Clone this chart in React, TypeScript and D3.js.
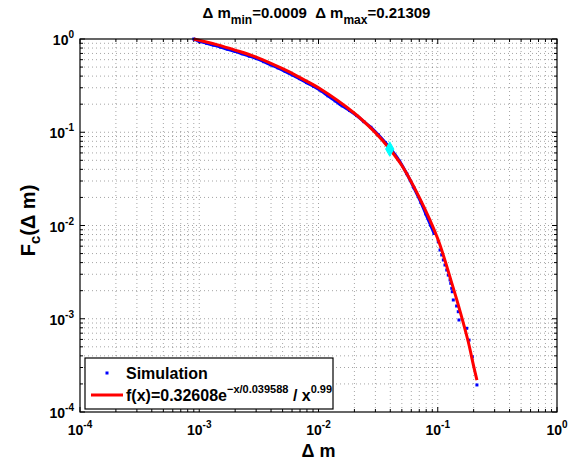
import React from "react";
import * as d3 from "d3";

const W = 572;
const H = 460;
const PLOT = { left: 80, right: 557, top: 39, bottom: 412 };

// axis ticks
const tickExponents = [-4, -3, -2, -1, 0];
const tickExpLabels = ["-4", "-3", "-2", "-1", "0"];
const minorMultipliers = [2, 3, 4, 5, 6, 7, 8, 9];

// fitted curve (red)
const fitX = [0.0009, 0.0014, 0.002, 0.003, 0.005, 0.007, 0.01, 0.02, 0.03, 0.04, 0.05, 0.07, 0.1, 0.13, 0.15, 0.18, 0.2, 0.21309];
const fitY = [1.0, 0.87, 0.76, 0.64, 0.48, 0.385, 0.3, 0.16, 0.099, 0.065, 0.044, 0.02, 0.0072, 0.0025, 0.00135, 0.00057, 0.00031, 0.00022];

// simulation (blue dots)
const simX = [0.0009, 0.001, 0.00115, 0.00132, 0.00151, 0.00174, 0.002, 0.00229, 0.00263, 0.00302, 0.00347, 0.00398, 0.00457, 0.00525, 0.00603, 0.00692, 0.00794, 0.00912, 0.0105, 0.012, 0.0138, 0.0158, 0.0182, 0.0209, 0.024, 0.0275, 0.0316, 0.0363, 0.0417, 0.0479, 0.055, 0.0631, 0.0724, 0.0794, 0.0871, 0.0933, 0.101, 0.1045, 0.108, 0.1114, 0.115, 0.119, 0.1225, 0.1268, 0.1285, 0.131, 0.1324, 0.135, 0.144, 0.1486, 0.1507, 0.175, 0.183, 0.195, 0.21309];
const simY = [1.0, 0.944, 0.9, 0.859, 0.818, 0.774, 0.736, 0.695, 0.655, 0.617, 0.571, 0.528, 0.49, 0.45, 0.411, 0.376, 0.341, 0.31, 0.278, 0.246, 0.217, 0.192, 0.171, 0.151, 0.13, 0.113, 0.0946, 0.0776, 0.0625, 0.0489, 0.0359, 0.0254, 0.0176, 0.0133, 0.0101, 0.00822, 0.0067, 0.00546, 0.00483, 0.00427, 0.00377, 0.00333, 0.00294, 0.00261, 0.0024, 0.00212, 0.00195, 0.00159, 0.00137, 0.00119, 0.00097, 0.00079, 0.00059, 0.00039, 0.000195];
const DENSE_MAX_X = 0.095;

// marker at lambda
const markerX = [0.039588];
const markerY = [0.066];

const FONT = "'Liberation Sans', Arial, Helvetica, sans-serif";

export default function App() {
  const x = d3.scaleLog().domain([1e-4, 1]).range([PLOT.left, PLOT.right]);
  const y = d3.scaleLog().domain([1e-4, 1]).range([PLOT.bottom, PLOT.top]);

  const majors = tickExponents.map((e) => Math.pow(10, e));
  const minors: number[] = [];
  tickExponents.slice(0, -1).forEach((e) => {
    minorMultipliers.forEach((m) => minors.push(m * Math.pow(10, e)));
  });
  const gridVals = [...majors.slice(1, -1), ...minors];

  const fitPts = fitX.map((v, i) => [x(v), y(fitY[i])] as [number, number]);
  const fitPath = d3.line().curve(d3.curveCatmullRom.alpha(0.5))(fitPts) || "";

  const densePts = simX
    .map((v, i) => ({ v, p: [x(v), y(simY[i])] as [number, number] }))
    .filter((d) => d.v <= DENSE_MAX_X)
    .map((d) => d.p);
  const densePath = d3.line().curve(d3.curveCatmullRom.alpha(0.5))(densePts) || "";

  const diamond = d3.symbol().type(d3.symbolDiamond).size(60)() || "";

  const gridStyle = { stroke: "#000", strokeOpacity: 0.45, strokeWidth: 0.8, strokeDasharray: "1 3" };

  return (
    <svg width={W} height={H} style={{ position: "absolute", left: 0, top: 0, background: "#fff" }} fontFamily={FONT}>
      <rect x={0} y={0} width={W} height={H} fill="#fff" />
      {/* grid */}
      <g>
        {gridVals.map((v, i) => (
          <line key={"gx" + i} x1={x(v)} x2={x(v)} y1={PLOT.top} y2={PLOT.bottom} {...gridStyle} />
        ))}
        {gridVals.map((v, i) => (
          <line key={"gy" + i} y1={y(v)} y2={y(v)} x1={PLOT.left} x2={PLOT.right} {...gridStyle} />
        ))}
      </g>
      {/* ticks */}
      <g stroke="#000" strokeWidth={1}>
        {majors.map((v, i) => (
          <g key={"mt" + i}>
            <line x1={x(v)} x2={x(v)} y1={PLOT.bottom} y2={PLOT.bottom - 5} />
            <line x1={x(v)} x2={x(v)} y1={PLOT.top} y2={PLOT.top + 5} />
            <line y1={y(v)} y2={y(v)} x1={PLOT.left} x2={PLOT.left + 5} />
            <line y1={y(v)} y2={y(v)} x1={PLOT.right} x2={PLOT.right - 5} />
          </g>
        ))}
        {minors.map((v, i) => (
          <g key={"nt" + i}>
            <line x1={x(v)} x2={x(v)} y1={PLOT.bottom} y2={PLOT.bottom - 3} />
            <line x1={x(v)} x2={x(v)} y1={PLOT.top} y2={PLOT.top + 3} />
            <line y1={y(v)} y2={y(v)} x1={PLOT.left} x2={PLOT.left + 3} />
            <line y1={y(v)} y2={y(v)} x1={PLOT.right} x2={PLOT.right - 3} />
          </g>
        ))}
      </g>
      {/* simulation */}
      <path d={densePath} fill="none" stroke="#0000ff" strokeWidth={3} />
      {simX.map((v, i) => (
        <rect key={"s" + i} x={x(v) - 1.5} y={y(simY[i]) - 1.5} width={3} height={3} fill="#0000ff" />
      ))}
      {/* fit */}
      <path d={fitPath} fill="none" stroke="#ff0000" strokeWidth={3} strokeLinejoin="round" />
      {markerX.map((v, i) => (
        <path key={"m" + i} d={diamond} transform={`translate(${x(v)},${y(markerY[i])})`} fill="#00ffff" stroke="#00ffff" />
      ))}
      {/* frame */}
      <rect x={PLOT.left} y={PLOT.top} width={PLOT.right - PLOT.left} height={PLOT.bottom - PLOT.top} fill="none" stroke="#000" strokeWidth={1.2} />
      {/* x tick labels */}
      {majors.map((v, i) => (
        <text key={"xl" + i} x={x(v)} y={435} textAnchor="middle" fontWeight="bold" fontSize={14}>
          10<tspan dy={-7} fontSize={10}>{tickExpLabels[i]}</tspan>
        </text>
      ))}
      {/* y tick labels */}
      {majors.map((v, i) => (
        <text key={"yl" + i} x={74} y={y(v) + 6} textAnchor="end" fontWeight="bold" fontSize={14}>
          10<tspan dy={-7} fontSize={10}>{tickExpLabels[i]}</tspan>
        </text>
      ))}
      {/* axis labels */}
      <text x={(PLOT.left + PLOT.right) / 2} y={457} textAnchor="middle" fontWeight="bold" fontSize={18}>Δ m</text>
      <text transform={`translate(35,${(PLOT.top + PLOT.bottom) / 2 - 5}) rotate(-90)`} textAnchor="middle" fontWeight="bold" fontSize={20}>
        F<tspan dy={5} fontSize={15}>c</tspan><tspan dy={-5}>(Δ m)</tspan>
      </text>
      {/* title */}
      <text x={(PLOT.left + PLOT.right) / 2 - 2} y={18} textAnchor="middle" fontWeight="bold" fontSize={15} style={{ whiteSpace: "pre" }}>
        Δ m<tspan dy={6} fontSize={12}>min</tspan><tspan dy={-6}>=0.0009  Δ m</tspan><tspan dy={6} fontSize={12}>max</tspan><tspan dy={-6}>=0.21309</tspan>
      </text>
      {/* legend */}
      <g>
        <rect x={85} y={358} width={248} height={51} fill="#fff" stroke="#000" strokeWidth={1.2} />
        <rect x={105.5} y={371.5} width={3} height={3} fill="#0000ff" />
        <text x={126} y={379} fontWeight="bold" fontSize={16}>Simulation</text>
        <line x1={91} x2={123} y1={395} y2={395} stroke="#ff0000" strokeWidth={3} />
        <text x={126} y={401} fontWeight="bold" fontSize={16}>
          f(x)=0.32608e<tspan dy={-8} fontSize={11}>−x/0.039588</tspan><tspan dy={8}> / x</tspan><tspan dy={-8} fontSize={11}>0.99</tspan>
        </text>
      </g>
    </svg>
  );
}
